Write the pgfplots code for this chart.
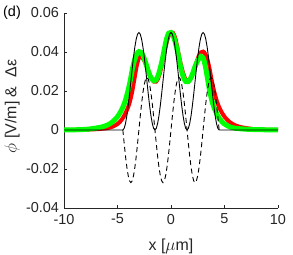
\documentclass[border=0pt]{standalone}
\usepackage{pgfplots}
\pgfplotsset{compat=1.18}
\usepackage{pgfplotstable}
\usepackage{fontspec}
\setmainfont{Liberation Sans}
\usetikzlibrary{calc}
\definecolor{txt}{rgb}{0.15,0.15,0.15}

\pgfplotstableread{
x y
-10 0
-9 0.0001
-8 0.0003
-7.5 0.0006
-7 0.0010
-6.5 0.0015
-6 0.0024
-5.5 0.0040
-5 0.0068
-4.6 0.0105
-4.3 0.0145
-4.0 0.0205
-3.8 0.0255
-3.6 0.0315
-3.4 0.0360
-3.2 0.0390
-3.0 0.0402
-2.8 0.0398
-2.6 0.0380
-2.4 0.0350
-2.2 0.0315
-2.0 0.0283
-1.8 0.0262
-1.6 0.0252
-1.4 0.0257
-1.2 0.0280
-1.0 0.0318
-0.8 0.0365
-0.6 0.0420
-0.4 0.0470
-0.2 0.0497
0.0 0.0500
0.2 0.0485
0.4 0.0450
0.6 0.0405
0.8 0.0350
1.0 0.0300
1.2 0.0265
1.4 0.0248
1.6 0.0248
1.8 0.0262
2.0 0.0285
2.2 0.0318
2.4 0.0345
2.6 0.0365
2.8 0.0377
3.0 0.0370
3.2 0.0330
3.4 0.0268
3.6 0.0205
3.8 0.0155
4.0 0.0118
4.4 0.0070
4.8 0.0040
5.2 0.0024
5.6 0.0014
6.0 0.0009
7 0.0004
8 0.0002
10 0.0
}\green

\pgfplotstableread{
x y
-10 0
-8 0.0002
-7 0.0004
-6.0 0.0009
-5.6 0.0014
-5.2 0.0024
-4.8 0.0040
-4.4 0.0070
-4.0 0.0118
-3.8 0.0155
-3.6 0.0205
-3.4 0.0268
-3.2 0.0330
-3.0 0.0370
-2.8 0.0377
-2.6 0.0365
-2.4 0.0345
-2.2 0.0318
-2.0 0.0285
-1.8 0.0262
-1.6 0.0248
-1.4 0.0248
-1.2 0.0265
-1.0 0.0300
-0.8 0.0350
-0.6 0.0405
-0.4 0.0450
-0.2 0.0485
0 0.0500
0.2 0.0497
0.4 0.0470
0.6 0.0420
0.8 0.0365
1.0 0.0318
1.2 0.0280
1.4 0.0257
1.6 0.0252
1.8 0.0262
2.0 0.0283
2.2 0.0315
2.4 0.0350
2.6 0.0380
2.8 0.0398
3.0 0.0402
3.2 0.0390
3.4 0.0360
3.6 0.0315
3.8 0.0255
4.0 0.0205
4.3 0.0145
4.6 0.0105
5 0.0068
5.5 0.0040
6 0.0024
6.5 0.0015
7 0.0010
7.5 0.0006
8 0.0003
9 0.0001
10 0
}\red

\pgfplotstableread{
x y
-10 0
-4.5 0
-4.375 0.00085
-4.25 0.00335
-4.125 0.00732
-4 0.0125
-3.875 0.01853
-3.75 0.025
-3.625 0.03147
-3.5 0.0375
-3.375 0.04268
-3.25 0.04665
-3.125 0.04915
-3 0.05
-2.875 0.04915
-2.75 0.04665
-2.625 0.04268
-2.5 0.0375
-2.375 0.03147
-2.25 0.025
-2.125 0.01853
-2 0.0125
-1.875 0.00732
-1.75 0.00335
-1.625 0.00085
-1.5 0
-1.375 0.00085
-1.25 0.00335
-1.125 0.00732
-1 0.0125
-0.875 0.01853
-0.75 0.025
-0.625 0.03147
-0.5 0.0375
-0.375 0.04268
-0.25 0.04665
-0.125 0.04915
0 0.05
0.125 0.04915
0.25 0.04665
0.375 0.04268
0.5 0.0375
0.625 0.03147
0.75 0.025
0.875 0.01853
1 0.0125
1.125 0.00732
1.25 0.00335
1.375 0.00085
1.5 0
1.625 0.00085
1.75 0.00335
1.875 0.00732
2 0.0125
2.125 0.01853
2.25 0.025
2.375 0.03147
2.5 0.0375
2.625 0.04268
2.75 0.04665
2.875 0.04915
3 0.05
3.125 0.04915
3.25 0.04665
3.375 0.04268
3.5 0.0375
3.625 0.03147
3.75 0.025
3.875 0.01853
4 0.0125
4.125 0.00732
4.25 0.00335
4.375 0.00085
4.5 0
10 0
}\solid

\pgfplotstableread{
x y
-4.5 0
-4.375 -0.00699
-4.25 -0.0135
-4.125 -0.01909
-4 -0.02338
-3.875 -0.02608
-3.75 -0.027
-3.625 -0.02608
-3.5 -0.02338
-3.375 -0.01909
-3.25 -0.0135
-3.125 -0.00699
-3 0
-2.875 0.00699
-2.75 0.0135
-2.625 0.01909
-2.5 0.02338
-2.375 0.02608
-2.25 0.027
-2.125 0.02608
-2 0.02338
-1.875 0.01909
-1.75 0.0135
-1.625 0.00699
-1.5 0
-1.375 -0.00699
-1.25 -0.0135
-1.125 -0.01909
-1 -0.02338
-0.875 -0.02608
-0.75 -0.027
-0.625 -0.02608
-0.5 -0.02338
-0.375 -0.01909
-0.25 -0.0135
-0.125 -0.00699
0 0
0.125 0.00699
0.25 0.0135
0.375 0.01909
0.5 0.02338
0.625 0.02608
0.75 0.027
0.875 0.02608
1 0.02338
1.125 0.01909
1.25 0.0135
1.375 0.00699
1.5 0
1.625 -0.00699
1.75 -0.0135
1.875 -0.01909
2 -0.02338
2.125 -0.02608
2.25 -0.027
2.375 -0.02608
2.5 -0.02338
2.625 -0.01909
2.75 -0.0135
2.875 -0.00699
3 0
3.125 0.00699
3.25 0.0135
3.375 0.01909
3.5 0.02338
3.625 0.02608
3.75 0.027
3.875 0.02608
4 0.02338
4.125 0.01909
4.25 0.0135
4.375 0.00699
4.5 0
}\dashed

\begin{document}
\begin{tikzpicture}
\begin{axis}[name=ax, scale only axis, width=214bp, height=195bp,
  xmin=-10, xmax=10, ymin=-0.04, ymax=0.06,
  scaled y ticks=false, scaled x ticks=false,
  axis x line=bottom, axis y line=left, axis line style={-, txt, line width=0.6bp},
  tick align=inside, major tick length=3bp,
  tick style={txt, line width=0.6bp},
  xtick={-10,-5,0,5,10}, xticklabels={-10,-5,0,5,10},
  ytick={-0.04,-0.02,0,0.02,0.04,0.06},
  yticklabels={-0.04,-0.02,0,0.02,0.04,0.06},
  ticklabel style={font=\fontsize{14.5}{17}\selectfont, text=txt},
  yticklabel style={anchor=east, xshift=-1.5bp},
  xticklabel style={anchor=north, yshift=-2.5bp},
]
\addplot[red, line width=4bp, smooth] table[x=x,y=y] {\red};
\addplot[green, line width=5bp, smooth] table[x=x,y=y] {\green};
\addplot[black, line width=0.9bp] table[x=x,y=y] {\solid};
\addplot[black, line width=0.9bp, dash pattern=on 5bp off 3.5bp] table[x=x,y=y] {\dashed};
\end{axis}
\node[font=\fontsize{16}{19}\selectfont, text=txt, anchor=center] at ($(ax.south)+(0,-38bp)$) {x [$\mu$m]};
\node[font=\fontsize{16}{19}\selectfont, text=txt, anchor=center, rotate=90] at ($(ax.west)+(-52bp,4bp)$) {$\phi$ [V/m] \&\ \ Δε};
\node[font=\fontsize{14.5}{17}\selectfont, text=black, anchor=center] at ($(ax.north west)+(-52bp,0bp)$) {(d)};
\pgfresetboundingbox
\path[use as bounding box] ($(ax.south west)+(-64bp,-47bp)$) rectangle ($(ax.north east)+(15bp,13bp)$);
\end{tikzpicture}
\end{document}
